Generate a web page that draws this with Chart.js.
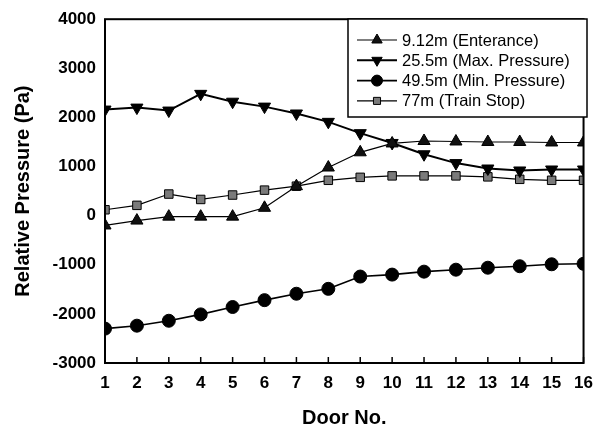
<!DOCTYPE html>
<html lang="en">
<head>
    <meta charset="UTF-8">
    <title>Relative Pressure by Door</title>
    <style>
        body { margin: 0; background: white; }
        #wrap { width: 603px; height: 430px; }
    </style>
    <script src="https://cdn.jsdelivr.net/npm/chart.js"></script>
</head>
<body>
    <div id="wrap"><canvas id="chart" width="603" height="430"></canvas></div>
    <script>
        var doors = [1, 2, 3, 4, 5, 6, 7, 8, 9, 10, 11, 12, 13, 14, 15, 16];
        var entrance = [-200, -100, -20, -20, -20, 160, 600, 980, 1290, 1470, 1520, 1510, 1500, 1500, 1490, 1490];
        var maxPressure = [2160, 2200, 2140, 2480, 2320, 2220, 2080, 1910, 1680, 1480, 1250, 1070, 960, 920, 940, 940];
        var minPressure = [-2300, -2240, -2140, -2010, -1860, -1720, -1590, -1490, -1240, -1200, -1140, -1100, -1060, -1030, -990, -980];
        var trainStop = [120, 210, 440, 330, 420, 520, 600, 720, 780, 810, 810, 810, 790, 740, 720, 720];
        var seriesNames = ['9.12m (Enterance)', '25.5m (Max. Pressure)', '49.5m (Min. Pressure)', '77m (Train Stop)'];

        var font = '"Liberation Sans", Arial, sans-serif';

        function pts(vals) {
            return doors.map(function(d, i) { return { x: d, y: vals[i] }; });
        }

        // frame, inward x ticks and the boxed legend
        var decor = {
            id: 'decor',
            afterDatasetsDraw: function(chart) {
                var ctx = chart.ctx, a = chart.chartArea;
                var xs = chart.scales.x;
                ctx.save();
                ctx.strokeStyle = '#000';
                ctx.lineWidth = 2;
                ctx.strokeRect(a.left, a.top, a.right - a.left, a.bottom - a.top);
                ctx.lineWidth = 1.5;
                doors.forEach(function(d) {
                    var px = xs.getPixelForValue(d);
                    ctx.beginPath();
                    ctx.moveTo(px, a.bottom);
                    ctx.lineTo(px, a.bottom - 6);
                    ctx.stroke();
                });

                // legend box
                var lx = 348, ly = 19, lw = 239, lh = 98;
                ctx.fillStyle = '#fff';
                ctx.fillRect(lx, ly, lw, lh);
                ctx.lineWidth = 1.5;
                ctx.strokeRect(lx, ly, lw, lh);
                ctx.font = '16.5px ' + font;
                ctx.textBaseline = 'middle';
                chart.data.datasets.forEach(function(ds, i) {
                    var y = ly + 21 + i * 20.3;
                    ctx.strokeStyle = '#000';
                    ctx.lineWidth = ds.borderWidth;
                    ctx.beginPath();
                    ctx.moveTo(lx + 9, y);
                    ctx.lineTo(lx + 49, y);
                    ctx.stroke();
                    ctx.fillStyle = ds.pointBackgroundColor;
                    ctx.strokeStyle = ds.pointBorderColor;
                    ctx.lineWidth = 1;
                    Chart.helpers.drawPoint(ctx, {
                        pointStyle: ds.pointStyle,
                        rotation: ds.pointRotation || 0,
                        radius: ds.pointRadius - 1,
                        borderWidth: 1
                    }, lx + 29, y);
                    ctx.fillStyle = '#000';
                    ctx.fillText(ds.label, lx + 54, y + 1);
                });
                ctx.restore();
            }
        };

        function series(label, vals, style, rot, radius, width, fill) {
            return {
                label: label,
                data: pts(vals),
                borderColor: '#000',
                borderWidth: width,
                pointStyle: style,
                pointRotation: rot,
                pointRadius: radius,
                pointBackgroundColor: fill,
                pointBorderColor: '#000',
                pointBorderWidth: 1,
                tension: 0
            };
        }

        new Chart(document.getElementById('chart'), {
            type: 'line',
            data: {
                datasets: [
                    series(seriesNames[0], entrance, 'triangle', 0, 7, 1.2, '#111'),
                    series(seriesNames[1], maxPressure, 'triangle', 180, 7, 2, '#000'),
                    series(seriesNames[2], minPressure, 'circle', 0, 6.5, 1.6, '#000'),
                    series(seriesNames[3], trainStop, 'rect', 0, 6, 1.2, '#7a7a7a')
                ]
            },
            options: {
                responsive: false,
                animation: false,
                layout: { padding: { top: 16, right: 19, left: 0, bottom: 0 } },
                plugins: { legend: { display: false }, tooltip: { enabled: false } },
                scales: {
                    x: {
                        type: 'linear',
                        min: 1,
                        max: 16,
                        grid: { display: false, drawTicks: false },
                        border: { display: false },
                        ticks: {
                            stepSize: 1,
                            padding: 10,
                            color: '#000',
                            font: { family: font, size: 17, weight: 'bold' }
                        },
                        title: {
                            display: true,
                            text: 'Door No.',
                            color: '#000',
                            padding: { top: 8, bottom: 0 },
                            font: { family: font, size: 20, weight: 'bold' }
                        },
                        afterFit: function(s) { s.height = 67; }
                    },
                    y: {
                        min: -3000,
                        max: 4000,
                        grid: { display: false, drawTicks: false },
                        border: { display: false },
                        ticks: {
                            stepSize: 1000,
                            padding: 9,
                            color: '#000',
                            font: { family: font, size: 17, weight: 'bold' },
                            callback: function(v) { return String(v); }
                        },
                        title: {
                            display: true,
                            text: 'Relative Pressure (Pa)',
                            color: '#000',
                            padding: { top: 11, bottom: 0 },
                            font: { family: font, size: 20, weight: 'bold' }
                        },
                        afterFit: function(s) { s.width = 105; }
                    }
                }
            },
            plugins: [decor]
        });
    </script>
</body>
</html>
